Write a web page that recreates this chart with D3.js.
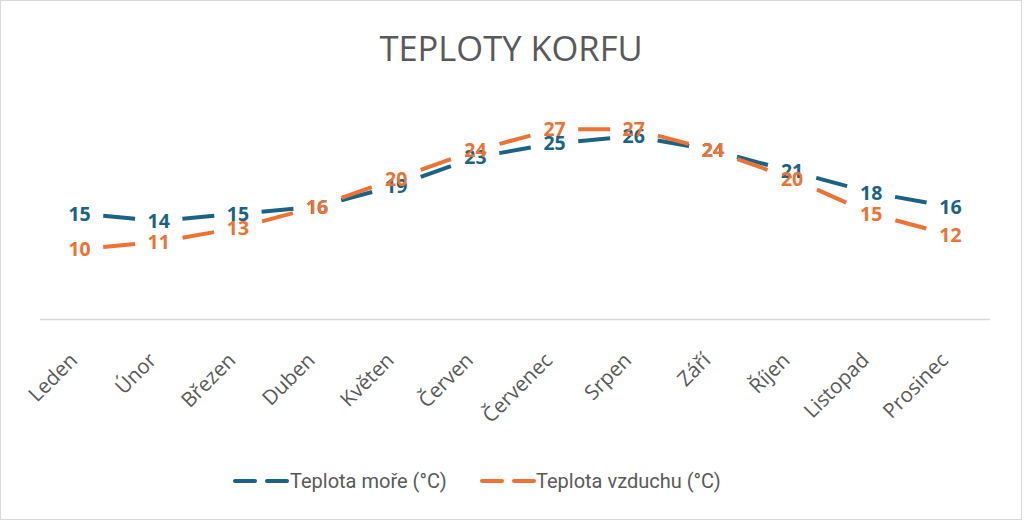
<!DOCTYPE html>
<html><head><meta charset="utf-8">
<script src="https://cdn.jsdelivr.net/npm/d3@7"></script>
<style>html,body{margin:0;padding:0;background:#fff}</style>
</head><body>
<svg id="c" width="1024" height="522"></svg>
<script>
const months = ["Leden","Únor","Březen","Duben","Květen","Červen","Červenec","Srpen","Září","Říjen","Listopad","Prosinec"];
const seaTemp = [15,14,15,16,19,23,25,26,24,21,18,16];
const airTemp = [10,11,13,16,20,24,27,27,24,20,15,12];
const seriesNames = ["Teplota moře (°C)","Teplota vzduchu (°C)"];
const colors = ["#1b6386","#ee7232"];

const svg = d3.select("#c");
svg.append("rect").attr("x",0.5).attr("y",0.5).attr("width",1021).attr("height",519)
  .attr("fill","#fff").attr("stroke","#d9d9d9");

svg.append("text").attr("x",511).attr("y",61).attr("text-anchor","middle")
  .attr("font-family","Open Sans, sans-serif").attr("font-size",34.5).attr("fill","#595959")
  .text("TEPLOTY KORFU");

const x = d3.scaleBand().domain(months).range([40,990]);
const y = d3.scaleLinear().domain([0,30]).range([319.5,108]);
const cx = m => x(m) + x.bandwidth()/2;

svg.append("line").attr("x1",40).attr("x2",990).attr("y1",319.5).attr("y2",319.5)
  .attr("stroke","#d9d9d9").attr("stroke-width",1.5);

const axis = d3.axisBottom(x).tickSize(0).tickPadding(0);
const gA = svg.append("g").attr("transform","translate(0,319.5)").call(axis);
gA.select(".domain").remove();
gA.selectAll("text").attr("font-family","Open Sans, sans-serif").attr("font-size",20.5)
  .attr("fill","#595959").attr("text-anchor","end").attr("dy",0)
  .attr("transform","translate(-1,42) rotate(-45)");

const series = [seaTemp, airTemp];
const dash = 32;
series.forEach((vals,si)=>{
  const g = svg.append("g");
  for(let i=0;i<vals.length-1;i++){
    const x1=cx(months[i]), y1=y(vals[i]), x2=cx(months[i+1]), y2=y(vals[i+1]);
    const L=Math.hypot(x2-x1,y2-y1);
    g.append("line").attr("x1",x1).attr("y1",y1).attr("x2",x2).attr("y2",y2)
      .attr("stroke",colors[si]).attr("stroke-width",4)
      .attr("stroke-dasharray",`${dash} ${L}`).attr("stroke-dashoffset",-(L-dash)/2);
  }
});
series.forEach((vals,si)=>{
  svg.append("g").selectAll("text").data(vals).join("text")
    .attr("x",(d,i)=>cx(months[i])).attr("y",(d,i)=>y(d)).attr("dy","0.36em")
    .attr("text-anchor","middle").attr("font-family","Noto Sans, sans-serif")
    .attr("font-weight","bold").attr("font-size",19.5).attr("fill",colors[si]).text(d=>d);
});

// legend
const leg = [{x:235,tx:290},{x:482,tx:536}];
leg.forEach((l,i)=>{
  const g=svg.append("g");
  g.append("line").attr("x1",l.x).attr("x2",l.x+20).attr("y1",481).attr("y2",481)
    .attr("stroke",colors[i]).attr("stroke-width",4).attr("stroke-linecap","round");
  g.append("line").attr("x1",l.x+32).attr("x2",l.x+52).attr("y1",481).attr("y2",481)
    .attr("stroke",colors[i]).attr("stroke-width",4).attr("stroke-linecap","round");
  g.append("text").attr("x",l.tx).attr("y",488).attr("font-family","Roboto, sans-serif")
    .attr("font-size",20).attr("fill","#595959").text(seriesNames[i]);
});
</script>
</body></html>
